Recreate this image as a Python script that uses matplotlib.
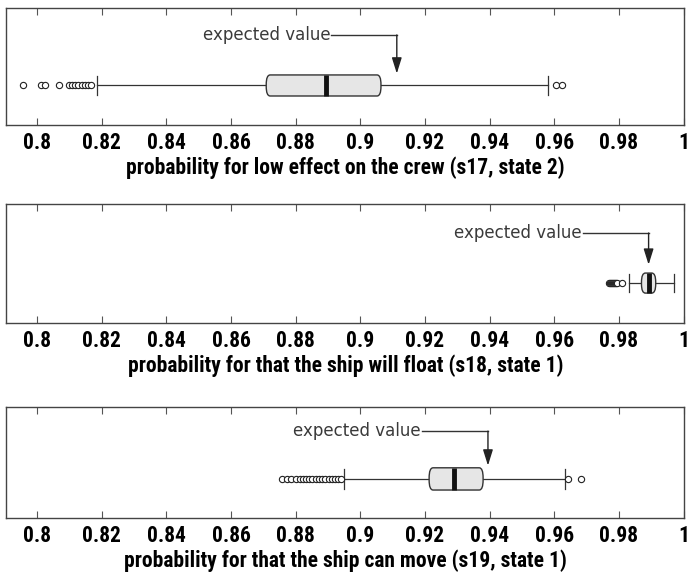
import matplotlib.pyplot as plt
from matplotlib.patches import FancyBboxPatch

plt.rcParams['font.family'] = ['Roboto Condensed', 'DejaVu Sans']

# summary stats
labels = ['probability for low effect on the crew (s17, state 2)',
          'probability for that the ship will float (s18, state 1)',
          'probability for that the ship can move (s19, state 1)']
q1 = [0.8709, 0.9870, 0.9213]
med = [0.8893, 0.9894, 0.9289]
q3 = [0.9064, 0.9914, 0.9380]
wlo = [0.8184, 0.9830, 0.8951]
whi = [0.9582, 0.9972, 0.9634]
fliers = [
    [0.7955, 0.8012, 0.8025, 0.8068, 0.8098, 0.8108, 0.8118, 0.8128,
     0.8138, 0.8148, 0.8158, 0.8168, 0.9605, 0.9625],
    [0.9769, 0.9772, 0.9775, 0.9778, 0.9781, 0.9784, 0.9787, 0.9790,
     0.9793, 0.9809],
    [0.8757, 0.8772, 0.8787, 0.8800, 0.8812, 0.8822, 0.8832, 0.8842,
     0.8852, 0.8862, 0.8872, 0.8882, 0.8892, 0.8902, 0.8912, 0.8922,
     0.8932, 0.8940, 0.9643, 0.9684],
]
expected = [0.9113, 0.9892, 0.9395]
text_end = [0.8910, 0.9688, 0.9191]   # x where the "expected value" text ends

ticks = [0.8, 0.82, 0.84, 0.86, 0.88, 0.9, 0.92, 0.94, 0.96, 0.98, 1]
ticklabels = ['0.8', '0.82', '0.84', '0.86', '0.88', '0.9', '0.92', '0.94',
              '0.96', '0.98', '1']

# panel geometry (figure fractions) and vertical placement inside each panel
axpos = [[0.0087, 0.783, 0.979, 0.203],
         [0.0087, 0.439, 0.979, 0.207],
         [0.0087, 0.101, 0.979, 0.193]]
boxy = [0.338, 0.336, 0.35]
liney = [0.77, 0.756, 0.78]
tipy = [0.44, 0.49, 0.47]
boxh = [0.18, 0.168, 0.20]

fig = plt.figure(figsize=(6.93, 5.76), dpi=100)

for i in range(3):
    ax = fig.add_axes(axpos[i])
    ax.set_xlim(0.7904, 1.0003)
    ax.set_ylim(0, 1)
    st = dict(med=med[i], q1=q1[i], q3=q3[i], whislo=wlo[i], whishi=whi[i],
              fliers=fliers[i])
    ax.bxp([st], positions=[boxy[i]], vert=False, widths=boxh[i],
           showbox=False, showcaps=True,
           whiskerprops=dict(color='#333333', lw=0.9),
           capprops=dict(color='#333333', lw=0.9),
           capwidths=boxh[i] * 0.9,
           medianprops=dict(color='white', lw=0),
           flierprops=dict(marker='o', markersize=4.5, markerfacecolor='white',
                           markeredgecolor='#222222', markeredgewidth=0.8))
    # rounded box
    y0 = boxy[i] - boxh[i] / 2
    box = FancyBboxPatch((q1[i], y0), q3[i] - q1[i], boxh[i],
                         boxstyle='round,pad=0,rounding_size=0.0012',
                         mutation_aspect=boxh[i] / 0.0012 / 2.2,
                         facecolor='#e6e6e6', edgecolor='#333333', lw=1.0,
                         zorder=3)
    ax.add_patch(box)
    ax.plot([med[i], med[i]], [y0, y0 + boxh[i]], color='#111111', lw=3.5,
            solid_capstyle='butt', zorder=4)

    # expected value annotation
    ax.text(text_end[i] - 0.0003, liney[i], 'expected value', ha='right',
            va='center', fontsize=12, color='#3a3a3a', family='DejaVu Sans')
    ax.plot([text_end[i], expected[i]], [liney[i], liney[i]],
            color='#333333', lw=1.0)
    ax.annotate('', xy=(expected[i], tipy[i]), xytext=(expected[i], liney[i]),
                arrowprops=dict(arrowstyle='-|>,head_length=0.8,head_width=0.25',
                                color='#222222', lw=1.0,
                                mutation_scale=12, shrinkA=0, shrinkB=0))

    ax.set_xticks(ticks)
    ax.set_xticklabels(ticklabels, fontsize=15.5, fontweight='bold')
    ax.set_yticks([])
    ax.tick_params(axis='x', direction='in', top=True, length=5,
                   color='#555555', pad=5)
    for s in ax.spines.values():
        s.set_color('#444444')
        s.set_linewidth(1.0)
    ax.set_xlabel(labels[i], fontsize=15.5, fontweight='bold', labelpad=2)

fig.savefig('out.png', dpi=100)
